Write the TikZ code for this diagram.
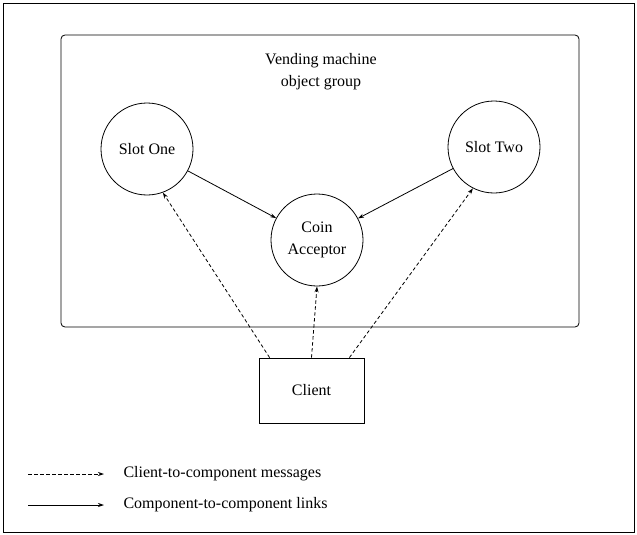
\documentclass[tikz,border=0pt]{standalone}
\usepackage{fontspec}
\setmainfont{Liberation Serif}
\usetikzlibrary{arrows.meta}
\begin{document}
\begin{tikzpicture}[x=1pt,y=-1pt,
  lbl/.style={font=\fontsize{16}{22}\selectfont},
  comp/.style={draw, circle, line width=0.8pt, minimum size=92pt, inner sep=0pt, align=center, lbl},
  link/.style={line width=0.8pt, -{Stealth[length=6pt,width=4pt]}},
  msg/.style={line width=0.8pt, dash pattern=on 3.5pt off 2.5pt, -{Stealth[length=6pt,width=4pt]}}]
  \useasboundingbox (0,0) rectangle (637,535);
  % outer frame
  \draw[line width=0.8pt] (3,3) rectangle (634,532);
  % object group
  \draw[line width=0.8pt, rounded corners=4pt] (61,35) rectangle (579,327);
  \node[lbl, align=center] (title) at (321,72) {Vending machine\\object group};
  % components
  \node[comp] (s1) at (147,149) {Slot One};
  \node[comp] (s2) at (494,147) {Slot Two};
  \node[comp] (coin) at (317,240) {Coin\\Acceptor};
  \node[draw, line width=0.8pt, minimum width=105pt, minimum height=65pt, lbl] (client) at (311.5,390.5) {Client};
  % component links
  \draw[link] (s1) -- (coin);
  \draw[link] (s2) -- (coin);
  % client messages
  \draw[msg] ([xshift=11pt]client.north west) -- (s1.-70);
  \draw[msg] (client.north) -- (coin.south);
  \draw[msg] ([xshift=-15pt]client.north east) -- (s2.-117);
  % legend
  \coordinate (la1) at (28,474);
  \coordinate (la2) at (104,474);
  \coordinate (lb1) at (28,505);
  \coordinate (lb2) at (104,505);
  \draw[msg] (la1) -- (la2);
  \draw[link] (lb1) -- (lb2);
  \node[lbl, anchor=west] (lega) at (120,474) {Client-to-component messages};
  \node[lbl, anchor=west] (legb) at (120,505) {Component-to-component links};
\end{tikzpicture}
\end{document}
